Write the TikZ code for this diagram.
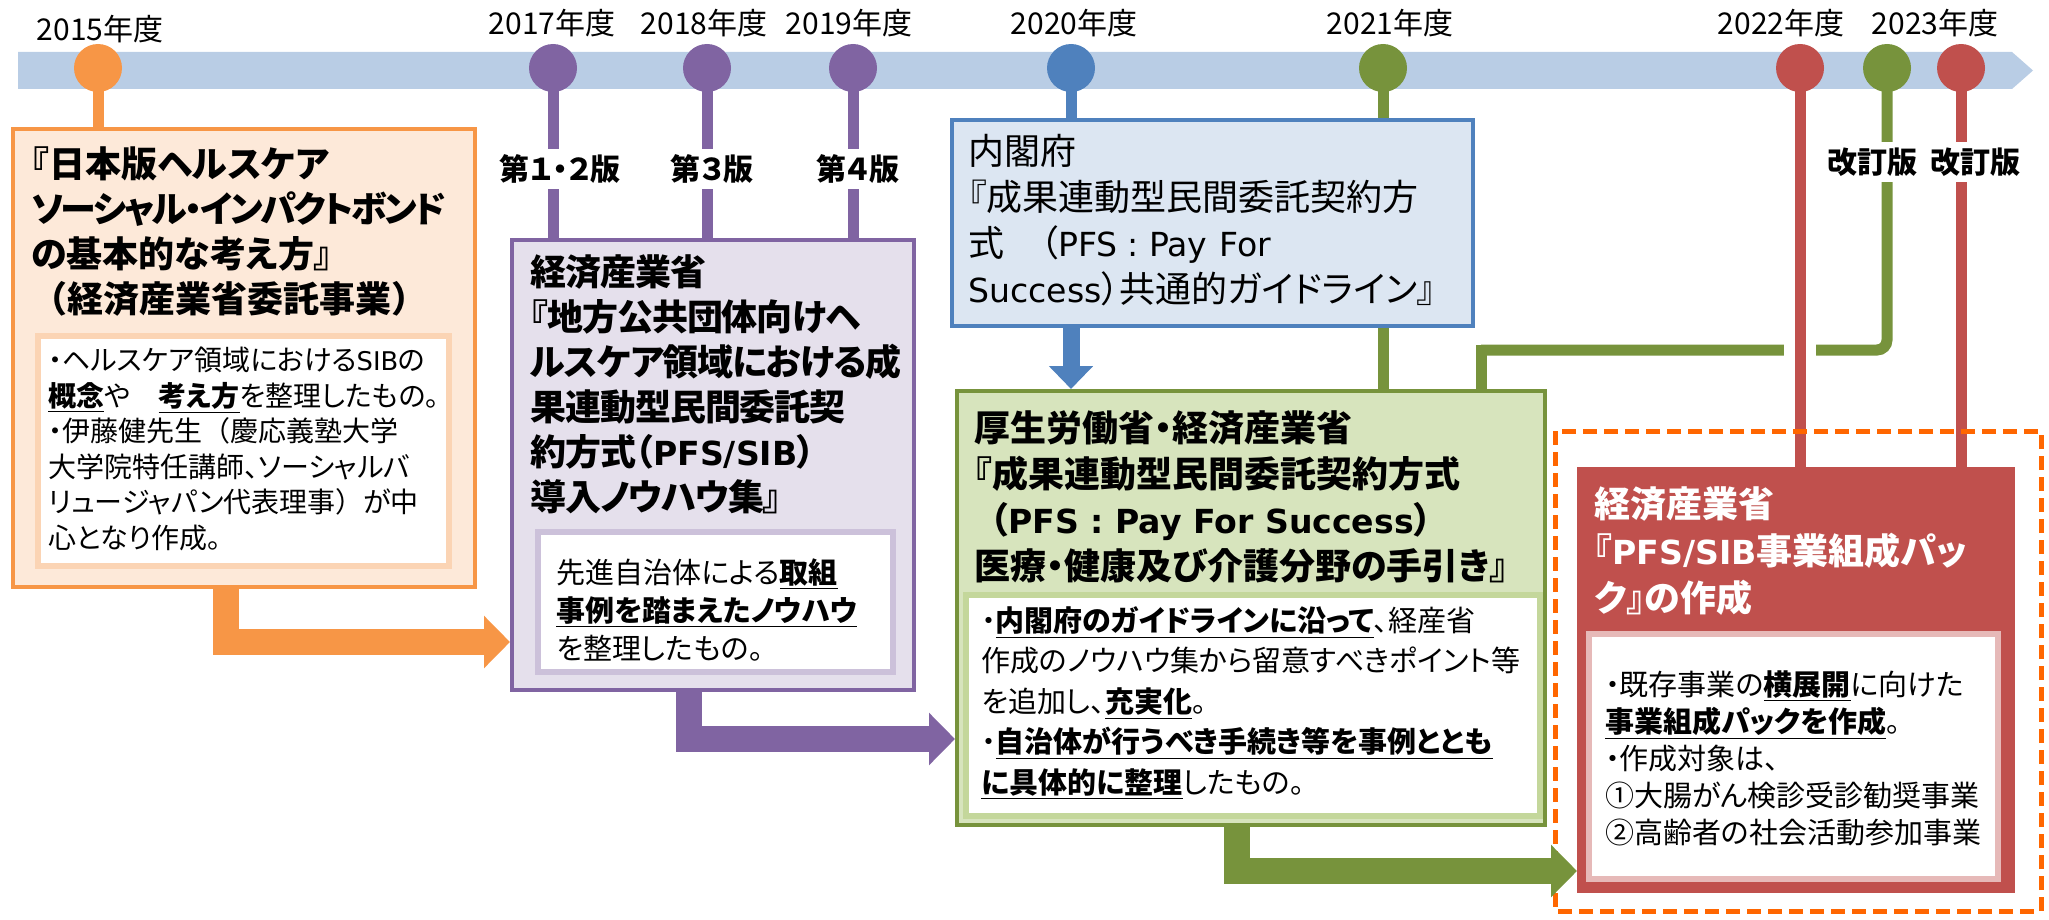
\documentclass[tikz,border=0pt]{standalone}
\usepackage{fontspec}
\setmainfont{Noto Sans CJK JP}[RawFeature=+palt]
\newfontfamily\latf{DejaVu Sans}[Scale=0.92]
\usetikzlibrary{arrows.meta,backgrounds,calc}
\definecolor{bandc}{HTML}{B9CDE5}
\definecolor{cor}{HTML}{F79646}
\definecolor{corl}{HTML}{FDE9D9}
\definecolor{corb}{HTML}{FBD4B4}
\definecolor{cpu}{HTML}{8064A2}
\definecolor{cpul}{HTML}{E5E0EC}
\definecolor{cpub}{HTML}{CCC1DA}
\definecolor{cbl}{HTML}{4F81BD}
\definecolor{cbll}{HTML}{DCE6F2}
\definecolor{cgr}{HTML}{77933C}
\definecolor{cgrl}{HTML}{D7E4BD}
\definecolor{cgrb}{HTML}{C4D79B}
\definecolor{cre}{HTML}{C0504D}
\definecolor{creb}{HTML}{E6B9B8}
\definecolor{cdash}{HTML}{FF6600}
\newcommand{\ulb}[1]{\underline{\textbf{#1}}}
\newcommand{\lt}[1]{{\latf #1}}
\newcommand{\tight}[1]{{\addfontfeature{LetterSpace=-7}#1}}
\newcommand{\fw}[1]{{\addfontfeature{RawFeature=-palt}#1}}
\begin{document}
\begin{tikzpicture}[x=0.5pt,y=-0.5pt,
  yearlbl/.style={font=\fontsize{15pt}{18pt}\selectfont, inner sep=0},
  dot/.style={circle, inner sep=0, minimum size=24pt, fill=#1},
  stem/.style={line width=5.5pt, draw=#1},
  verlbl/.style={font=\bfseries\fontsize{15pt}{17pt}\selectfont, fill=white, inner xsep=1pt, inner ysep=3pt},
  box/.style={draw=#1, line width=2pt, anchor=north west, inner sep=0},
  inbox/.style={draw=#1, line width=3pt, fill=white, anchor=north west, inner sep=0},
  ttl/.style={font=\bfseries\fontsize{18pt}{22.5pt}\selectfont, align=left, anchor=north west, inner sep=0},
  bdy/.style={font=\fontsize{14pt}{17.75pt}\selectfont, align=left, anchor=north west, inner sep=0},
  bigarrow/.style={line width=13pt, draw=#1, -{Triangle[length=13pt,width=25.5pt]}},
]
\useasboundingbox (0,0) rectangle (2049,920);
% timeline band
\fill[bandc] (18,52) -- (2012,52) -- (2033,70.5) -- (2012,89) -- (18,89) -- cycle;
% year labels
\node[yearlbl] (y2015) at (100,29) {2015年度};
\node[yearlbl] (y2017) at (552,23) {2017年度};
\node[yearlbl] (y2018) at (704,23) {2018年度};
\node[yearlbl] (y2019) at (849,23) {2019年度};
\node[yearlbl] (y2020) at (1074,23) {2020年度};
\node[yearlbl] (y2021) at (1390,23) {2021年度};
\node[yearlbl] (y2022) at (1781,23) {2022年度};
\node[yearlbl] (y2023) at (1935,23) {2023年度};
% circles
\node[dot=cor] (c2015) at (98,68) {};
\node[dot=cpu] (c2017) at (553,68) {};
\node[dot=cpu] (c2018) at (707,68) {};
\node[dot=cpu] (c2019) at (853,68) {};
\node[dot=cbl] (c2020) at (1071,68) {};
\node[dot=cgr] (c2021) at (1383,68) {};
\node[dot=cre] (c2022) at (1800,68) {};
\node[dot=cgr] (c2023g) at (1887,68) {};
\node[dot=cre] (c2023r) at (1961,68) {};
% boxes
\node[box=cor, fill=corl, minimum width=231pt, minimum height=229pt] (ob) at (11,127) {};
\node[inbox=corb, minimum width=205.5pt, minimum height=115pt] (obi) at (35,333) {};
\node[box=cpu, fill=cpul, minimum width=201pt, minimum height=225pt] (pb) at (510,238) {};
\node[inbox=cpub, minimum width=177.5pt, minimum height=70pt] (pbi) at (535,529) {};
\node[box=cbl, fill=cbll, minimum width=260.5pt, minimum height=103pt] (bb) at (950,118) {};
\node[box=cgr, fill=cgrl, minimum width=294pt, minimum height=217pt] (gb) at (955,389) {};
\node[inbox=cgrb, minimum width=287pt, minimum height=110.5pt] (gbi) at (963,592) {};
\draw[cdash, line width=2.5pt, dash pattern=on 7pt off 3.5pt] (1555,431) rectangle (2041,911);
\node[box=cre, fill=cre, minimum width=217pt, minimum height=211pt] (rb) at (1577,467) {};
\node[inbox=creb, minimum width=204.5pt, minimum height=122.5pt] (rbi) at (1586,631) {};
% stems (behind)
\begin{scope}[on background layer]
\draw[stem=cor] (c2015.center) -- (c2015.center |- ob.north);
\draw[stem=cpu] (c2017.center) -- (c2017.center |- pb.north);
\draw[stem=cpu] (c2018.center) -- (c2018.center |- pb.north);
\draw[stem=cpu] (c2019.center) -- (c2019.center |- pb.north);
\draw[stem=cbl] (c2020.center) -- (c2020.center |- bb.north);
\draw[stem=cgr] (c2021.center) -- (c2021.center |- gb.north);
\coordinate (gk1) at (1887,350);
\coordinate (gk2) at (1481,350);
\draw[stem=cgr, rounded corners=5pt] (c2023g.center) -- (gk1) -- (gk2);
\draw[stem=cgr, line cap=rect] (gk2) -- (gk2 |- gb.north);
\draw[white, line width=8pt] (1784,350) -- (1816,350);
\draw[stem=cre] (c2022.center) -- (c2022.center |- rb.north);
\draw[stem=cre] (c2023r.center) -- (c2023r.center |- rb.north);
\end{scope}
% version labels
\node[verlbl] (v12) at (560,169) {第１・２版};
\node[verlbl] (v3) at (712,169) {第３版};
\node[verlbl] (v4) at (858,169) {第４版};
\node[verlbl] (k1) at (1872,162) {改訂版};
\node[verlbl] (k2) at (1975,162) {改訂版};
% arrows
\draw[bigarrow=cor] ($(ob.south west)+(215,0)$) |- ($(pb.north west)+(0,404)$);
\draw[bigarrow=cpu] ($(pb.south west)+(179,0)$) |- ($(gb.north west)+(0,350)$);
\draw[bigarrow=cgr] ($(gb.south west)+(282,0)$) |- ($(rb.north west)+(0,404)$);
\draw[line width=8.5pt, cbl, -{Triangle[length=11.5pt,width=21.5pt]}] (c2020.center |- bb.south) -- (c2020.center |- gb.north);
% texts
\node[ttl] (ot) at (31,146) {『日本版ヘルスケア\\\tight{ソーシャル・インパクトボンド}\\の基本的な考え方』\\\fw{（}経済産業省委託事業\fw{）}};
\node[bdy] (obt) at (48,347) {・ヘルスケア領域における\lt{SIB}の\\\ulb{概念}や　\ulb{考え方}を整理したもの。\\・伊藤健先生\fw{（}慶応義塾大学\\大学院特任講師、ソーシャルバ\\リュージャパン代表理事\fw{）}が中\\心となり作成。};
\node[ttl, font=\bfseries\fontsize{18pt}{22.5pt}\selectfont\addfontfeature{LetterSpace=-3}] (pt) at (530,254) {経済産業省\\『地方公共団体向けヘ\\ルスケア領域における成\\果連動型民間委託契\\約方式（\lt{PFS/SIB}）\\導入ノウハウ集』};
\node[bdy, font=\fontsize{14.5pt}{19pt}\selectfont] (pbt) at (556,558) {先進自治体による\ulb{取組}\\\ulb{事例を踏まえたノウハウ}\\を整理したもの。};
\node[ttl, font=\mdseries\fontsize{18pt}{23pt}\selectfont] (bt) at (968,134) {内閣府\\『成果連動型民間委託契約方\\式　（\lt{PFS\hspace{5pt}:\hspace{5pt}Pay\hspace{6pt}For}\\\lt{Success}）共通的ガイドライン』};
\node[ttl, font=\bfseries\fontsize{18pt}{23pt}\selectfont] (gt) at (974,410) {厚生労働省・経済産業省\\『成果連動型民間委託契約方式\\\hspace*{8pt}（\lt{PFS : Pay For Success}）\\医療・健康及び介護分野の手引き』};
\node[bdy, font=\fontsize{14.5pt}{20.25pt}\selectfont] (gbt) at (981,606) {・\ulb{内閣府のガイドラインに沿って}、経産省\\作成のノウハウ集から留意すべきポイント等\\を追加し、\ulb{充実化}。\\・\ulb{自治体が行うべき手続き等を事例ととも}\\\ulb{に具体的に整理}したもの。};
\node[ttl, text=white, font=\bfseries\fontsize{18pt}{23.5pt}\selectfont] (rt) at (1594,486) {経済産業省\\『\lt{PFS/SIB}事業組成パッ\\ク』の作成};
\node[bdy, font=\fontsize{14.5pt}{18.5pt}\selectfont] (rbt) at (1605,670) {・既存事業の\ulb{横展開}に向けた\\\ulb{事業組成パックを作成}。\\・作成対象は、\\①大腸がん検診受診勧奨事業\\②高齢者の社会活動参加事業};
\end{tikzpicture}
\end{document}
